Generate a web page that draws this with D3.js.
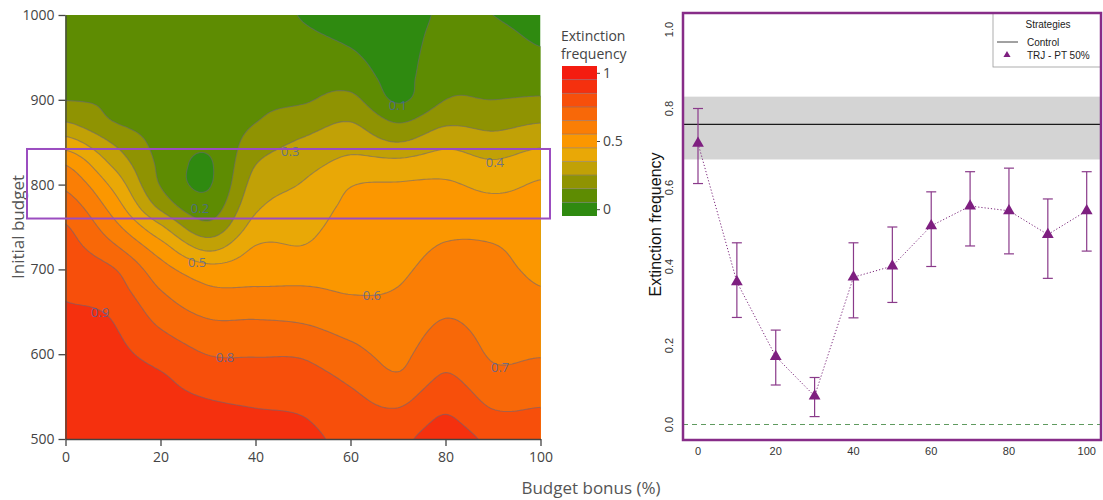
<!DOCTYPE html>
<html>
<head>
<meta charset="utf-8">
<script src="https://cdn.jsdelivr.net/npm/d3@7"></script>
<style>
  body { margin: 0; background: #fff; }
  svg { display: block; }
</style>
</head>
<body>
<svg id="chart" width="1103" height="500"></svg>
<script>
// ---------- Left panel: extinction frequency surface ----------
const budgetBonus = [0, 10, 20, 30, 40, 50, 60, 70, 80, 90, 100];
const initialBudget = [1000, 975, 950, 925, 900, 875, 850, 825, 800, 775, 750,
                       725, 700, 675, 650, 625, 600, 575, 550, 525, 500];

// One column per budget bonus, rows from initial budget 1000 down to 500
const freqBonus0   = [0.15,0.162,0.174,0.186,0.198,0.295,0.442,0.591,0.678,0.749,0.807,0.835,0.863,0.891,0.907,0.918,0.928,0.939,0.949,0.960,0.970];
const freqBonus10  = [0.15,0.160,0.170,0.179,0.189,0.199,0.291,0.381,0.475,0.556,0.636,0.723,0.807,0.847,0.888,0.909,0.921,0.933,0.945,0.958,0.970];
const freqBonus20  = [0.14,0.145,0.150,0.155,0.160,0.165,0.170,0.180,0.195,0.272,0.417,0.548,0.641,0.702,0.756,0.811,0.866,0.907,0.925,0.942,0.960];
const freqBonus30  = [0.15,0.150,0.150,0.150,0.150,0.140,0.118,0.090,0.092,0.140,0.231,0.378,0.538,0.617,0.680,0.741,0.798,0.847,0.896,0.924,0.950];
const freqBonus40  = [0.14,0.150,0.160,0.170,0.185,0.197,0.243,0.296,0.338,0.380,0.438,0.508,0.558,0.611,0.678,0.737,0.793,0.838,0.881,0.914,0.940];
const freqBonus50  = [0.095,0.115,0.140,0.165,0.190,0.248,0.314,0.362,0.407,0.439,0.471,0.506,0.559,0.612,0.668,0.726,0.789,0.830,0.867,0.902,0.920];
const freqBonus60  = [0.06,0.085,0.115,0.160,0.225,0.297,0.361,0.427,0.495,0.518,0.537,0.556,0.575,0.594,0.634,0.682,0.730,0.778,0.817,0.849,0.880];
const freqBonus70  = [0.04,0.050,0.060,0.070,0.088,0.190,0.300,0.428,0.507,0.526,0.545,0.565,0.584,0.604,0.629,0.653,0.678,0.707,0.769,0.827,0.880];
const freqBonus80  = [0.12,0.140,0.160,0.180,0.200,0.278,0.372,0.453,0.512,0.545,0.578,0.609,0.636,0.663,0.690,0.725,0.765,0.806,0.859,0.907,0.940];
const freqBonus90  = [0.10,0.125,0.150,0.175,0.200,0.266,0.338,0.413,0.477,0.529,0.573,0.606,0.623,0.640,0.656,0.673,0.690,0.720,0.769,0.822,0.880];
const freqBonus100 = [0.07,0.088,0.116,0.161,0.211,0.292,0.377,0.457,0.509,0.527,0.546,0.565,0.584,0.605,0.635,0.665,0.694,0.736,0.779,0.820,0.860];
const freqColumns = [freqBonus0, freqBonus10, freqBonus20, freqBonus30, freqBonus40, freqBonus50,
                     freqBonus60, freqBonus70, freqBonus80, freqBonus90, freqBonus100];

const contourLevels = [0.1, 0.2, 0.3, 0.4, 0.5, 0.6, 0.7, 0.8, 0.9, 1.0];
// colour of each 0.1 band, from 0 (green) up to 1 (red)
const bandColors = ["#2f8a10", "#5e8c02", "#8f9302", "#c1a106", "#e9a806", "#fb9700",
                    "#fa7e05", "#f86808", "#f74f0b", "#f5300e", "#f41c10"];
const colorbarTicks = [0, 0.5, 1];
const leftXTicks = [0, 20, 40, 60, 80, 100];
const leftYTicks = [500, 600, 700, 800, 900, 1000];
const contourLabels = [
  { level: 0.1, bonus: 70.0, budget: 894 },
  { level: 0.2, bonus: 28.3, budget: 772 },
  { level: 0.3, bonus: 47.3, budget: 840 },
  { level: 0.4, bonus: 90.4, budget: 827 },
  { level: 0.5, bonus: 27.7, budget: 709 },
  { level: 0.6, bonus: 64.5, budget: 670 },
  { level: 0.7, bonus: 91.5, budget: 585 },
  { level: 0.8, bonus: 33.6, budget: 597 },
  { level: 0.9, bonus: 7.3,  budget: 650 }
];
// budget window that the right panel summarises
const windowBudget = [760, 842];

// ---------- Right panel: TRJ - PT 50% along budget bonus ----------
const bonusSteps = [0, 10, 20, 30, 40, 50, 60, 70, 80, 90, 100];
const trjMean  = [0.712, 0.361, 0.172, 0.072, 0.373, 0.401, 0.503, 0.553, 0.541, 0.481, 0.541];
const trjLower = [0.610, 0.271, 0.100, 0.020, 0.270, 0.309, 0.400, 0.452, 0.432, 0.370, 0.439];
const trjUpper = [0.800, 0.460, 0.239, 0.119, 0.460, 0.500, 0.589, 0.640, 0.649, 0.571, 0.640];
const controlMean = 0.76;
const controlBand = [0.671, 0.83];
const rightYTicks = [0, 0.2, 0.4, 0.6, 0.8, 1.0];
const rightXTicks = [0, 20, 40, 60, 80, 100];

const svg = d3.select("#chart");
const plotFont = "'Open Sans', 'DejaVu Sans', sans-serif";
const rFont = "'Liberation Sans', Arial, sans-serif";

// ===== Left panel =====
const xL = d3.scaleLinear().domain([0, 100]).range([65.5, 540.5]);
const yL = d3.scaleLinear().domain([500, 1000]).range([439, 15]);

svg.append("defs").append("clipPath").attr("id", "leftClip")
  .append("rect")
  .attr("x", xL(0)).attr("y", yL(1000))
  .attr("width", xL(100) - xL(0)).attr("height", yL(500) - yL(1000));

// Smooth the coarse grid with Catmull-Rom splines so the filled contours render smoothly
function catmull(p0, p1, p2, p3, t) {
  return 0.5 * (2 * p1 + (-p0 + p2) * t + (2 * p0 - 5 * p1 + 4 * p2 - p3) * t * t +
                (-p0 + 3 * p1 - 3 * p2 + p3) * t * t * t);
}
const nCols = budgetBonus.length, nRows = initialBudget.length;
function gridAt(c, r) {
  c = Math.max(0, Math.min(nCols - 1, c));
  r = Math.max(0, Math.min(nRows - 1, r));
  return freqColumns[c][r];
}
function surface(u, v) {
  const c = Math.min(Math.floor(u), nCols - 2), r = Math.min(Math.floor(v), nRows - 2);
  const tu = u - c, tv = v - r;
  const rowsVal = [];
  for (let k = -1; k <= 2; k++) {
    rowsVal.push(catmull(gridAt(c - 1, r + k), gridAt(c, r + k), gridAt(c + 1, r + k), gridAt(c + 2, r + k), tu));
  }
  return catmull(rowsVal[0], rowsVal[1], rowsVal[2], rowsVal[3], tv);
}
const fineNx = 201, fineNy = 201;
const fine = new Float64Array(fineNx * fineNy);
for (let j = 0; j < fineNy; j++) {
  for (let i = 0; i < fineNx; i++) {
    fine[i + j * fineNx] = surface(i / (fineNx - 1) * (nCols - 1), j / (fineNy - 1) * (nRows - 1));
  }
}
const bonusExtent = d3.extent(budgetBonus);
const budgetExtent = d3.extent(initialBudget);
const gridProjection = d3.geoTransform({
  point(gx, gy) {
    const bonus = bonusExtent[0] + (gx - 0.5) / (fineNx - 1) * (bonusExtent[1] - bonusExtent[0]);
    const budget = budgetExtent[1] - (gy - 0.5) / (fineNy - 1) * (budgetExtent[1] - budgetExtent[0]);
    this.stream.point(xL(bonus), yL(budget));
  }
});
const contourPath = d3.geoPath(gridProjection);
const bands = d3.contours().size([fineNx, fineNy]).thresholds(contourLevels)(Array.from(fine));

const surfaceG = svg.append("g").attr("clip-path", "url(#leftClip)");
surfaceG.append("rect")
  .attr("x", xL(0)).attr("y", yL(1000))
  .attr("width", xL(100) - xL(0)).attr("height", yL(500) - yL(1000))
  .attr("fill", bandColors[0]);
surfaceG.selectAll("path.band").data(bands).join("path")
  .attr("class", "band")
  .attr("d", contourPath)
  .attr("fill", d => bandColors[Math.round(d.value * 10)]);
surfaceG.selectAll("path.iso").data(bands.filter(d => d.value < 0.95)).join("path")
  .attr("class", "iso")
  .attr("d", contourPath)
  .attr("fill", "none")
  .attr("stroke", "rgba(100,100,125,0.55)")
  .attr("stroke-width", 1.1);
surfaceG.selectAll("text.lbl").data(contourLabels).join("text")
  .attr("class", "lbl")
  .attr("x", d => xL(d.bonus)).attr("y", d => yL(d.budget))
  .attr("text-anchor", "middle").attr("dominant-baseline", "central")
  .attr("font-family", plotFont).attr("font-size", 13)
  .attr("fill", "rgba(70,100,170,0.75)")
  .text(d => d3.format(".1f")(d.level));

// axes
const axisLeftL = svg.append("g").attr("transform", `translate(${xL(0)},0)`)
  .call(d3.axisLeft(yL).tickValues(leftYTicks).tickFormat(d3.format("d"))
    .tickSize(7).tickSizeOuter(0).tickPadding(4));
const axisBottomL = svg.append("g").attr("transform", `translate(0,${yL(500)})`)
  .call(d3.axisBottom(xL).tickValues(leftXTicks).tickFormat(d3.format("d"))
    .tickSize(7).tickSizeOuter(0).tickPadding(6));
[axisLeftL, axisBottomL].forEach(g => {
  g.selectAll("path.domain").attr("stroke", "#444").attr("stroke-width", 1.3);
  g.selectAll(".tick line").attr("stroke", "#444").attr("stroke-width", 1.3);
  g.selectAll(".tick text").attr("font-family", plotFont).attr("font-size", 14).attr("fill", "#444");
});

svg.append("text")
  .attr("transform", `translate(17,${(yL(500) + yL(1000)) / 2}) rotate(-90)`)
  .attr("text-anchor", "middle").attr("dominant-baseline", "central")
  .attr("font-family", plotFont).attr("font-size", 17).attr("fill", "#555")
  .text("Initial budget");
svg.append("text")
  .attr("x", 591).attr("y", 487)
  .attr("text-anchor", "middle").attr("dominant-baseline", "central")
  .attr("font-family", plotFont).attr("font-size", 17).attr("fill", "#555")
  .text("Budget bonus (%)");

// colour bar
const cbY = d3.scaleLinear().domain([-0.05, 1.05]).range([216, 66]);
const cbX0 = 562, cbX1 = 597;
const cbG = svg.append("g");
cbG.selectAll("rect").data(bandColors).join("rect")
  .attr("x", cbX0).attr("width", cbX1 - cbX0)
  .attr("y", (c, i) => cbY(i / 10 + 0.05))
  .attr("height", (c, i) => cbY(i / 10 - 0.05) - cbY(i / 10 + 0.05))
  .attr("fill", c => c);
cbG.selectAll("line.sep").data(contourLevels.slice(0, 10)).join("line")
  .attr("class", "sep")
  .attr("x1", cbX0).attr("x2", cbX1)
  .attr("y1", v => cbY(v - 0.05)).attr("y2", v => cbY(v - 0.05))
  .attr("stroke", "rgba(100,100,125,0.45)").attr("stroke-width", 1);
const cbAxis = svg.append("g").attr("transform", `translate(${cbX1},0)`)
  .call(d3.axisRight(cbY).tickValues(colorbarTicks).tickSize(3).tickSizeOuter(0).tickPadding(3)
    .tickFormat(d3.format("")));
cbAxis.select("path.domain").remove();
cbAxis.selectAll(".tick line").attr("stroke", "#444");
cbAxis.selectAll(".tick text").attr("font-family", plotFont).attr("font-size", 14).attr("fill", "#444");
svg.append("text")
  .attr("x", 561).attr("y", 35).attr("dominant-baseline", "central")
  .attr("font-family", plotFont).attr("font-size", 14).attr("fill", "#444")
  .text("Extinction");
svg.append("text")
  .attr("x", 561).attr("y", 53).attr("dominant-baseline", "central")
  .attr("font-family", plotFont).attr("font-size", 14).attr("fill", "#444")
  .text("frequency");

// highlighted budget window
svg.append("rect")
  .attr("x", 27).attr("y", yL(windowBudget[1]))
  .attr("width", 550 - 27).attr("height", yL(windowBudget[0]) - yL(windowBudget[1]))
  .attr("fill", "none").attr("stroke", "#9b4dc0").attr("stroke-width", 2);

// ===== Right panel =====
const xR = d3.scaleLinear().domain([0, 100]).range([698, 1086.7]);
const yR = d3.scaleLinear().domain([0, 1]).range([424.5, 29.5]);
const frame = { x0: 683, x1: 1101, y0: 13, y1: 440 };

svg.select("defs").append("clipPath").attr("id", "rightClip")
  .append("rect").attr("x", frame.x0).attr("y", frame.y0)
  .attr("width", frame.x1 - frame.x0).attr("height", frame.y1 - frame.y0);
const rg = svg.append("g").attr("clip-path", "url(#rightClip)");

// control mean with its interval
rg.append("rect")
  .attr("x", frame.x0).attr("width", frame.x1 - frame.x0)
  .attr("y", yR(controlBand[1])).attr("height", yR(controlBand[0]) - yR(controlBand[1]))
  .attr("fill", "#d4d4d4");
rg.append("line")
  .attr("x1", frame.x0).attr("x2", frame.x1)
  .attr("y1", yR(controlMean)).attr("y2", yR(controlMean))
  .attr("stroke", "#1a1a1a").attr("stroke-width", 1.3);
rg.append("line")
  .attr("x1", frame.x0).attr("x2", frame.x1)
  .attr("y1", yR(0)).attr("y2", yR(0))
  .attr("stroke", "#5f9a5f").attr("stroke-width", 1.2).attr("stroke-dasharray", "5,4");

const trjPoints = bonusSteps.map((b, i) => ({ b, m: trjMean[i], lo: trjLower[i], hi: trjUpper[i] }));
rg.append("path")
  .datum(trjPoints)
  .attr("d", d3.line().x(d => xR(d.b)).y(d => yR(d.m)))
  .attr("fill", "none").attr("stroke", "#7d2a7d").attr("stroke-width", 1)
  .attr("stroke-dasharray", "1.2,2");
const errG = rg.append("g").attr("stroke", "#8a3a8a").attr("stroke-width", 1.2);
errG.selectAll("line.v").data(trjPoints).join("line").attr("class", "v")
  .attr("x1", d => xR(d.b)).attr("x2", d => xR(d.b))
  .attr("y1", d => yR(d.lo)).attr("y2", d => yR(d.hi));
errG.selectAll("line.top").data(trjPoints).join("line").attr("class", "top")
  .attr("x1", d => xR(d.b) - 5).attr("x2", d => xR(d.b) + 5)
  .attr("y1", d => yR(d.hi)).attr("y2", d => yR(d.hi));
errG.selectAll("line.bot").data(trjPoints).join("line").attr("class", "bot")
  .attr("x1", d => xR(d.b) - 5).attr("x2", d => xR(d.b) + 5)
  .attr("y1", d => yR(d.lo)).attr("y2", d => yR(d.lo));
rg.selectAll("path.tri").data(trjPoints).join("path").attr("class", "tri")
  .attr("transform", d => `translate(${xR(d.b)},${yR(d.m)})`)
  .attr("d", d3.symbol(d3.symbolTriangle, 60))
  .attr("fill", "#7e1f80");

// tick labels
svg.append("g").selectAll("text").data(rightXTicks).join("text")
  .attr("x", d => xR(d)).attr("y", 451)
  .attr("text-anchor", "middle").attr("dominant-baseline", "central")
  .attr("font-family", rFont).attr("font-size", 11).attr("fill", "#333")
  .text(d => d);
svg.append("g").selectAll("text").data(rightYTicks).join("text")
  .attr("transform", d => `translate(669,${yR(d)}) rotate(-90)`)
  .attr("text-anchor", "middle").attr("dominant-baseline", "central")
  .attr("font-family", rFont).attr("font-size", 11).attr("fill", "#333")
  .text(d => d3.format(".1f")(d));
svg.append("text")
  .attr("transform", `translate(655,${(frame.y0 + frame.y1) / 2 - 2}) rotate(-90)`)
  .attr("text-anchor", "middle").attr("dominant-baseline", "central")
  .attr("font-family", rFont).attr("font-size", 16).attr("fill", "#111")
  .text("Extinction frequency");

// legend
const lg = svg.append("g");
lg.append("rect").attr("x", 993).attr("y", frame.y0).attr("width", frame.x1 - 993).attr("height", 54)
  .attr("fill", "#fff").attr("stroke", "#9a9a9a").attr("stroke-width", 0.8);
lg.append("text").attr("x", 1048).attr("y", 24).attr("text-anchor", "middle").attr("dominant-baseline", "central")
  .attr("font-family", rFont).attr("font-size", 10).attr("fill", "#222").text("Strategies");
lg.append("line").attr("x1", 997).attr("x2", 1018).attr("y1", 42).attr("y2", 42)
  .attr("stroke", "#444").attr("stroke-width", 1);
lg.append("text").attr("x", 1027).attr("y", 42).attr("dominant-baseline", "central")
  .attr("font-family", rFont).attr("font-size", 10).attr("fill", "#222").text("Control");
lg.append("path").attr("transform", "translate(1007,55)")
  .attr("d", d3.symbol(d3.symbolTriangle, 22)).attr("fill", "#7e1f80");
lg.append("text").attr("x", 1027).attr("y", 55).attr("dominant-baseline", "central")
  .attr("font-family", rFont).attr("font-size", 10).attr("fill", "#222").text("TRJ - PT 50%");

// panel frame, drawn last so it sits over the legend edge
svg.append("rect")
  .attr("x", frame.x0).attr("y", frame.y0)
  .attr("width", frame.x1 - frame.x0).attr("height", frame.y1 - frame.y0)
  .attr("fill", "none").attr("stroke", "#872c88").attr("stroke-width", 2.5);
</script>
</body>
</html>
